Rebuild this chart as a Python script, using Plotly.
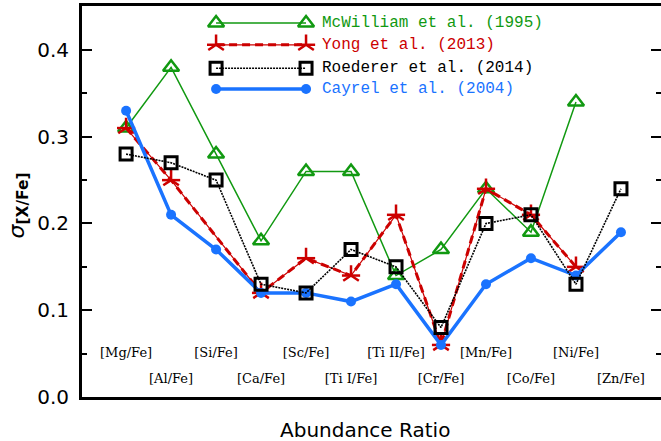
import plotly.graph_objects as go

# Abundance ratios along the x axis (one slot per ratio)
ratios = ["[Mg/Fe]", "[Al/Fe]", "[Si/Fe]", "[Ca/Fe]", "[Sc/Fe]", "[Ti I/Fe]",
          "[Ti II/Fe]", "[Cr/Fe]", "[Mn/Fe]", "[Co/Fe]", "[Ni/Fe]", "[Zn/Fe]"]
xpos = list(range(1, len(ratios) + 1))

# Star-to-star scatter sigma[X/Fe] for each study (None = not measured)
mcwilliam_1995 = [0.31, 0.38, 0.28, 0.18, 0.26, 0.26, 0.14, 0.17, 0.24, 0.19, 0.34, None]
yong_2013 = [0.31, 0.25, None, 0.12, 0.16, 0.14, 0.21, 0.06, 0.24, 0.21, 0.15, None]
roederer_2014 = [0.28, 0.27, 0.25, 0.13, 0.12, 0.17, 0.15, 0.08, 0.20, 0.21, 0.13, 0.24]
cayrel_2004 = [0.33, 0.21, 0.17, 0.12, 0.12, 0.11, 0.13, 0.06, 0.13, 0.16, 0.14, 0.19]

yticks = [0.0, 0.1, 0.2, 0.3, 0.4]

GREEN = "#119911"
RED = "#cc0000"
BLACK = "#000000"
BLUE = "#1a73ff"

fig = go.Figure()

# McWilliam et al. (1995)
fig.add_trace(go.Scatter(
    x=xpos, y=mcwilliam_1995, mode="lines+markers",
    line=dict(color=GREEN, width=1.5),
    marker=dict(symbol="triangle-up-open", size=14, color=GREEN,
                line=dict(color=GREEN, width=2.5)),
    showlegend=False, cliponaxis=False))

# Yong et al. (2013): thin solid core with thick dashes, five-armed star markers
fig.add_trace(go.Scatter(
    x=xpos, y=yong_2013, mode="lines", connectgaps=True,
    line=dict(color=RED, width=1.2), showlegend=False))
fig.add_trace(go.Scatter(
    x=xpos, y=yong_2013, mode="lines+markers", connectgaps=True,
    line=dict(color=RED, width=3, dash="8px,5px"),
    marker=dict(symbol="y-up-open", size=13, color=RED,
                line=dict(color=RED, width=2.5)),
    showlegend=False, cliponaxis=False))
fig.add_trace(go.Scatter(
    x=xpos, y=yong_2013, mode="markers",
    marker=dict(symbol="line-ew-open", size=13, color=RED,
                line=dict(color=RED, width=2.5)),
    showlegend=False, cliponaxis=False))

# Cayrel et al. (2004)
fig.add_trace(go.Scatter(
    x=xpos, y=cayrel_2004, mode="lines+markers",
    line=dict(color=BLUE, width=3.5),
    marker=dict(symbol="circle", size=10, color=BLUE),
    showlegend=False, cliponaxis=False))

# Roederer et al. (2014)
fig.add_trace(go.Scatter(
    x=xpos, y=roederer_2014, mode="lines+markers",
    line=dict(color=BLACK, width=1.6, dash="2px,1px"),
    marker=dict(symbol="square-open", size=12, color=BLACK,
                line=dict(color=BLACK, width=3)),
    showlegend=False, cliponaxis=False))

# Ratio names, staggered in two rows inside the frame
label_rows = [0.05 if i % 2 == 0 else 0.02 for i in range(len(ratios))]
fig.add_trace(go.Scatter(
    x=xpos, y=label_rows, mode="text", text=ratios,
    textfont=dict(family="DejaVu Serif", size=13, color="black"),
    showlegend=False, hoverinfo="skip"))

# Hand-drawn key: sample line from slot 3 to slot 5, name to the right
key_x0, key_x1, key_text_x = 3.0, 5.0, 5.3
key_rows = [0.431, 0.406, 0.379, 0.355]
key_entries = [
    ("McWilliam et al. (1995)", GREEN, dict(width=1.5),
     [dict(symbol="triangle-up-open", size=14, color=GREEN, line=dict(color=GREEN, width=2.5))]),
    ("Yong et al. (2013)", RED, dict(width=3, dash="8px,5px"),
     [dict(symbol="y-up-open", size=13, color=RED, line=dict(color=RED, width=2.5)),
      dict(symbol="line-ew-open", size=13, color=RED, line=dict(color=RED, width=2.5))]),
    ("Roederer et al. (2014)", BLACK, dict(width=1.6, dash="2px,1px"),
     [dict(symbol="square-open", size=12, color=BLACK, line=dict(color=BLACK, width=3))]),
    ("Cayrel et al. (2004)", BLUE, dict(width=3.5),
     [dict(symbol="circle", size=10, color=BLUE)]),
]
for (name, col, lstyle, markers), ky in zip(key_entries, key_rows):
    if col == RED:
        fig.add_trace(go.Scatter(x=[key_x0, key_x1], y=[ky, ky], mode="lines",
                                 line=dict(color=RED, width=1.2),
                                 showlegend=False, hoverinfo="skip"))
    fig.add_trace(go.Scatter(x=[key_x0, key_x1], y=[ky, ky], mode="lines",
                             line=dict(color=col, **lstyle),
                             showlegend=False, hoverinfo="skip"))
    for m in markers:
        fig.add_trace(go.Scatter(x=[key_x0, key_x1], y=[ky, ky], mode="markers",
                                 marker=m, showlegend=False, hoverinfo="skip",
                                 cliponaxis=False))
    fig.add_annotation(x=key_text_x, y=ky, xref="x", yref="y", text=name,
                       showarrow=False, xanchor="left", yanchor="middle",
                       font=dict(family="Liberation Mono", size=16, color=col))

# Axis titles
fig.add_annotation(x=0.489, y=-0.084, xref="paper", yref="paper",
                   text="Abundance Ratio", showarrow=False,
                   xanchor="center", yanchor="middle",
                   font=dict(family="DejaVu Sans", size=20, color="black"))
fig.add_annotation(x=0, y=0.49, xref="paper", yref="paper", xshift=-64,
                   text="<i>σ</i><sub><b>[X/Fe]</b></sub>", showarrow=False,
                   textangle=-90, xanchor="center", yanchor="middle",
                   font=dict(family="DejaVu Sans", size=22, color="black"))

YMAX = 0.4507
fig.update_layout(
    width=661, height=441,
    margin=dict(l=82, r=0, t=6, b=44),
    plot_bgcolor="white", paper_bgcolor="white",
    xaxis=dict(range=[0.02, 12.89], showgrid=False, zeroline=False,
               showticklabels=False, ticks="",
               showline=True, linecolor="black", linewidth=3, mirror=True),
    yaxis=dict(range=[0, YMAX], showgrid=False, zeroline=False,
               tickvals=yticks, tickformat=".1f", ticks="inside",
               ticklen=10, tickwidth=2, tickcolor="black",
               minor=dict(dtick=0.05, ticks="inside", ticklen=5,
                          tickwidth=2, tickcolor="black"),
               showline=True, linecolor="black", linewidth=3,
               tickfont=dict(family="DejaVu Sans", size=20, color="black"),
               ticklabelstandoff=6),
    yaxis2=dict(range=[0, YMAX], overlaying="y", side="right",
                showgrid=False, zeroline=False, showticklabels=False,
                tickvals=yticks, ticks="inside", ticklen=10, tickwidth=2,
                tickcolor="black",
                minor=dict(dtick=0.05, ticks="inside", ticklen=5,
                           tickwidth=2, tickcolor="black"),
                showline=False),
)
# Attach an empty trace so the right-hand tick axis is rendered
fig.add_trace(go.Scatter(x=[None], y=[None], yaxis="y2", showlegend=False))

fig.write_html("out.html")
